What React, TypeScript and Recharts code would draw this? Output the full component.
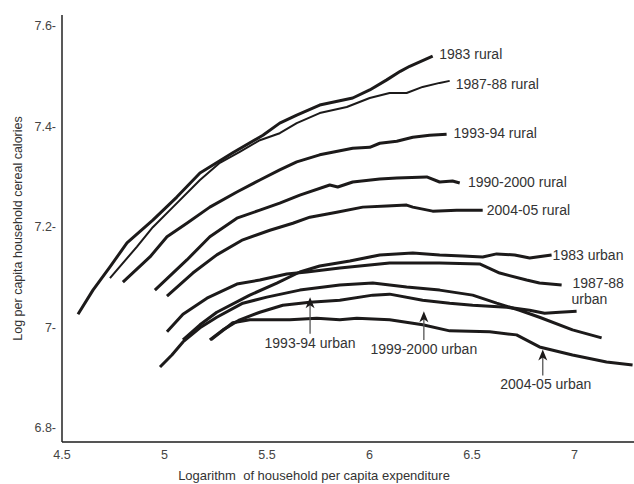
import React from 'react';
import { LineChart, Line, XAxis, YAxis, ReferenceDot } from 'recharts';

// [log expenditure, log cereal calories]
const RURAL_1983: [number, number][] = [
  [4.578, 7.027], [4.651, 7.075], [4.734, 7.121], [4.817, 7.169], [4.943, 7.214],
  [5.06, 7.26], [5.173, 7.308], [5.333, 7.348], [5.48, 7.383], [5.562, 7.407],
  [5.645, 7.423], [5.757, 7.443], [5.918, 7.457], [6.001, 7.473], [6.084, 7.493],
  [6.15, 7.51], [6.196, 7.52], [6.308, 7.54],
];
const RURAL_1987: [number, number][] = [
  [4.734, 7.099], [4.865, 7.161], [4.943, 7.2], [5.041, 7.24], [5.173, 7.294],
  [5.27, 7.328], [5.367, 7.35], [5.465, 7.373], [5.562, 7.387], [5.645, 7.407],
  [5.757, 7.427], [5.889, 7.439], [6.001, 7.457], [6.098, 7.467], [6.181, 7.467],
  [6.259, 7.479], [6.342, 7.487], [6.391, 7.491],
];
const RURAL_1993: [number, number][] = [
  [4.797, 7.091], [4.929, 7.141], [5.012, 7.181], [5.109, 7.208], [5.221, 7.24],
  [5.353, 7.27], [5.465, 7.294], [5.562, 7.314], [5.645, 7.33], [5.757, 7.344],
  [5.918, 7.357], [6.001, 7.359], [6.05, 7.367], [6.133, 7.371], [6.211, 7.379],
  [6.293, 7.383], [6.376, 7.385],
];
const RURAL_1999: [number, number][] = [
  [4.953, 7.075], [5.109, 7.135], [5.221, 7.181], [5.353, 7.218], [5.465, 7.234],
  [5.562, 7.248], [5.66, 7.264], [5.806, 7.284], [5.845, 7.28], [5.918, 7.29],
  [6.05, 7.296], [6.133, 7.298], [6.279, 7.3], [6.342, 7.29], [6.405, 7.292],
  [6.44, 7.288],
];
const RURAL_2004: [number, number][] = [
  [5.012, 7.063], [5.138, 7.109], [5.255, 7.145], [5.382, 7.175], [5.514, 7.194],
  [5.626, 7.208], [5.709, 7.22], [5.84, 7.23], [5.967, 7.24], [6.084, 7.242],
  [6.181, 7.244], [6.211, 7.24], [6.308, 7.232], [6.425, 7.234], [6.552, 7.234],
];
const URBAN_1983: [number, number][] = [
  [5.09, 6.976], [5.173, 7.006], [5.255, 7.031], [5.416, 7.065], [5.548, 7.089],
  [5.66, 7.111], [5.757, 7.123], [5.904, 7.133], [6.05, 7.145], [6.211, 7.149],
  [6.342, 7.145], [6.454, 7.143], [6.552, 7.141], [6.62, 7.147], [6.708, 7.145],
  [6.781, 7.139], [6.888, 7.145],
];
const URBAN_1987: [number, number][] = [
  [5.012, 6.992], [5.09, 7.027], [5.207, 7.059], [5.353, 7.087], [5.465, 7.095],
  [5.596, 7.107], [5.694, 7.111], [5.855, 7.119], [6.098, 7.129], [6.342, 7.129],
  [6.537, 7.127], [6.635, 7.109], [6.766, 7.095], [6.829, 7.089], [6.937, 7.085],
];
const URBAN_1993: [number, number][] = [
  [4.978, 6.922], [5.036, 6.946], [5.09, 6.972], [5.173, 7.0], [5.255, 7.021],
  [5.382, 7.049], [5.499, 7.061], [5.66, 7.075], [5.855, 7.085], [6.016, 7.089],
  [6.181, 7.081], [6.342, 7.075], [6.503, 7.065], [6.62, 7.049], [6.732, 7.035],
  [6.829, 7.021], [6.99, 6.996], [7.132, 6.98],
];
const URBAN_1999: [number, number][] = [
  [5.221, 6.976], [5.285, 6.996], [5.367, 7.016], [5.465, 7.031], [5.577, 7.045],
  [5.709, 7.051], [5.855, 7.055], [6.016, 7.065], [6.098, 7.067], [6.259, 7.055],
  [6.391, 7.049], [6.503, 7.045], [6.669, 7.041], [6.781, 7.035], [6.854, 7.029],
  [6.927, 7.031], [7.01, 7.033],
];
const URBAN_2004: [number, number][] = [
  [5.226, 6.976], [5.27, 6.99], [5.333, 7.01], [5.416, 7.016], [5.611, 7.016],
  [5.743, 7.019], [5.855, 7.016], [5.938, 7.019], [6.098, 7.016], [6.259, 7.006],
  [6.391, 6.994], [6.586, 6.992], [6.717, 6.986], [6.829, 6.962], [6.99, 6.946],
  [7.156, 6.932], [7.283, 6.926],
];

const X_TICKS = [4.5, 5, 5.5, 6, 6.5, 7];
const Y_TICKS = [6.8, 7, 7.2, 7.4, 7.6];

const SERIES = [
  { name: '1983 rural', points: RURAL_1983, width: 3 },
  { name: '1987-88 rural', points: RURAL_1987, width: 2 },
  { name: '1993-94 rural', points: RURAL_1993, width: 3 },
  { name: '1990-2000 rural', points: RURAL_1999, width: 3 },
  { name: '2004-05 rural', points: RURAL_2004, width: 3 },
  { name: '1983 urban', points: URBAN_1983, width: 3 },
  { name: '1987-88 urban', points: URBAN_1987, width: 3 },
  { name: '1993-94 urban', points: URBAN_1993, width: 3 },
  { name: '1999-2000 urban', points: URBAN_1999, width: 3 },
  { name: '2004-05 urban', points: URBAN_2004, width: 3 },
];

// text labels placed in data coordinates (left edge / baseline)
const LABELS: { text: string; x: number; y: number; anchor?: string }[] = [
  { text: '1983 rural', x: 6.34, y: 7.535 },
  { text: '1987-88 rural', x: 6.42, y: 7.475 },
  { text: '1993-94 rural', x: 6.41, y: 7.377 },
  { text: '1990-2000 rural', x: 6.48, y: 7.281 },
  { text: '2004-05 rural', x: 6.572, y: 7.224 },
  { text: '1983 urban', x: 6.893, y: 7.135 },
  { text: '1987-88', x: 6.99, y: 7.08 },
  { text: 'urban', x: 6.985, y: 7.048 },
  { text: '1993-94 urban', x: 5.71, y: 6.96, anchor: 'middle' },
  { text: '1999-2000 urban', x: 6.265, y: 6.948, anchor: 'middle' },
  { text: '2004-05 urban', x: 6.86, y: 6.878, anchor: 'middle' },
];

// arrows: x, tail y, tip y
const ARROWS = [
  { x: 5.71, from: 6.988, to: 7.061 },
  { x: 6.265, from: 6.976, to: 7.033 },
  { x: 6.845, from: 6.905, to: 6.957 },
];

const FONT = '"Liberation Sans", Arial, sans-serif';
const INK = '#1c1a1a';

function YTick({ x, y, payload }: any) {
  return (
    <text x={x + 2} y={y} dy={4} textAnchor="end" fontSize={12.5} fill="#444" fontFamily={FONT}>
      {`${payload.value}-`}
    </text>
  );
}

function XTick({ x, y, payload }: any) {
  return (
    <text x={x} y={y} dy={9} textAnchor="middle" fontSize={12.5} fill="#444" fontFamily={FONT}>
      {payload.value}
    </text>
  );
}

export default function App() {
  return (
    <div style={{ position: 'absolute', left: 0, top: 0, background: '#fff' }}>
      <LineChart width={634} height={484} margin={{ top: 15, right: 0, left: 0, bottom: 0 }}>
        <XAxis
          type="number"
          dataKey="x"
          domain={[4.5, 7.29]}
          ticks={X_TICKS}
          allowDataOverflow
          height={42}
          tickLine={false}
          axisLine={{ stroke: '#555', strokeWidth: 2 }}
          tick={<XTick />}
          label={{
            content: ({ viewBox }: any) => (
              <text
                x={viewBox.x + viewBox.width / 2 - 34}
                y={viewBox.y + 38}
                textAnchor="middle"
                fontSize={13}
                fill="#333"
                fontFamily={FONT}
                style={{ whiteSpace: 'pre' }}
              >
                {'Logarithm  of household per capita expenditure'}
              </text>
            ),
          }}
        />
        <YAxis
          type="number"
          dataKey="y"
          domain={[6.773, 7.622]}
          ticks={Y_TICKS}
          allowDataOverflow
          width={62}
          tickLine={false}
          axisLine={{ stroke: '#222', strokeWidth: 1.5 }}
          tick={<YTick />}
          label={{
            content: ({ viewBox }: any) => {
              const cx = 22;
              const cy = viewBox.y + viewBox.height / 2;
              return (
                <text
                  x={cx}
                  y={cy}
                  transform={`rotate(-90, ${cx}, ${cy})`}
                  textAnchor="middle"
                  fontSize={12.5}
                  fill="#333"
                  fontFamily={FONT}
                >
                  Log per capita household cereal calories
                </text>
              );
            },
          }}
        />
        {SERIES.map((s) => (
          <Line
            key={s.name}
            name={s.name}
            data={s.points.map(([x, y]) => ({ x, y }))}
            dataKey="y"
            type="linear"
            stroke={INK}
            strokeWidth={s.width}
            strokeLinejoin="round"
            dot={false}
            activeDot={false}
            isAnimationActive={false}
          />
        ))}
        {ARROWS.map((a, i) => (
          <ReferenceDot
            key={`arrow-${i}`}
            x={a.x}
            y={a.to}
            r={0}
            ifOverflow="visible"
            shape={(p: any) => {
              const { cx, cy } = p;
              // tail length in px from the y scale (0.1 log unit ~ 50px)
              const len = ((a.to - a.from) / 0.1) * 50.3;
              return (
                <g>
                  <line x1={cx} y1={cy + 4} x2={cx} y2={cy + len} stroke="#555" strokeWidth={1.3} />
                  <path
                    d={`M ${cx} ${cy} L ${cx + 4.5} ${cy + 11} L ${cx} ${cy + 8} L ${cx - 4.5} ${cy + 11} Z`}
                    fill="#1c1a1a"
                  />
                </g>
              );
            }}
          />
        ))}
        {LABELS.map((l) => (
          <ReferenceDot
            key={`label-${l.text}-${l.x}`}
            x={l.x}
            y={l.y}
            r={0}
            ifOverflow="visible"
            shape={(p: any) => (
              <text
                x={p.cx}
                y={p.cy}
                textAnchor={l.anchor ?? 'start'}
                fontSize={14}
                fill="#333"
                fontFamily={FONT}
              >
                {l.text}
              </text>
            )}
          />
        ))}
      </LineChart>
    </div>
  );
}
